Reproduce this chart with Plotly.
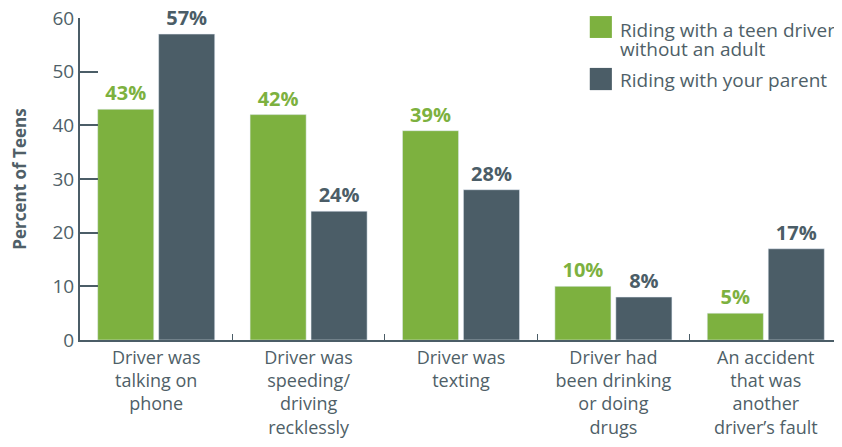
import plotly.graph_objects as go

categories = [
    "Driver was<br>talking on<br>phone",
    "Driver was<br>speeding/<br>driving<br>recklessly",
    "Driver was<br>texting",
    "Driver had<br>been drinking<br>or doing<br>drugs",
    "An accident<br>that was<br>another<br>driver’s fault",
]
teen_driver = [43, 42, 39, 10, 5]
with_parent = [57, 24, 28, 8, 17]
series_names = ["Riding with a teen driver without an adult", "Riding with your parent"]
legend_lines = [["Riding with a teen driver", "without an adult"], ["Riding with your parent"]]

GREEN = "#7db13f"
SLATE = "#4b5d67"
TEXT = "#4f5f68"
FONT = "Open Sans"

fig = go.Figure()
for vals, name, col in [(teen_driver, series_names[0], GREEN), (with_parent, series_names[1], SLATE)]:
    fig.add_trace(go.Bar(
        x=categories, y=vals, name=name, marker_color=col,
        text=[f"{v}%" for v in vals], textposition="outside",
        textfont=dict(color=col, size=20, family=FONT, weight="bold"), cliponaxis=False,
    ))

# legend drawn by hand so the swatches can be big like the original
swatches = [(GREEN, 1.006, 0.938), (SLATE, 0.845, 0.776)]
line_y = [[0.963, 0.904], [0.807]]
for (col, y1, y0), lines, ys in zip(swatches, legend_lines, line_y):
    fig.add_shape(type="rect", xref="paper", yref="paper", x0=0.669, x1=0.698, y0=y0, y1=y1,
                  fillcolor=col, line_width=0)
    for t, y in zip(lines, ys):
        fig.add_annotation(xref="paper", yref="paper", x=0.706, y=y, text=t, showarrow=False,
                           xanchor="left", yanchor="middle", font=dict(size=19, color=TEXT))

# page has an 8px body margin, so the figure is sized to fit inside the window
fig.update_layout(
    width=834, height=439,
    margin=dict(l=72, r=0, t=10, b=107, autoexpand=False),
    paper_bgcolor="white", plot_bgcolor="white",
    barmode="group", bargap=0.2, bargroupgap=0.08,
    font=dict(family=FONT, color=TEXT, size=16),
    showlegend=False,
)
fig.update_xaxes(
    automargin=False, showline=True, linecolor=SLATE, linewidth=2,
    ticks="inside", ticklen=6, tickcolor=SLATE, tickwidth=1, tickson="boundaries",
    tickfont=dict(size=18, color=TEXT), showgrid=False,
)
fig.update_yaxes(
    automargin=False, range=[0, 60], dtick=10, showline=True, linecolor=SLATE, linewidth=2,
    ticks="inside", ticklen=18, tickcolor=SLATE, tickwidth=2, showgrid=False, zeroline=False,
    tickfont=dict(size=19, color=TEXT), ticklabeloverflow="allow",
    title=dict(text="Percent of Teens", font=dict(size=17, color=TEXT, weight="bold"), standoff=22),
)

fig.write_html("out.html")
